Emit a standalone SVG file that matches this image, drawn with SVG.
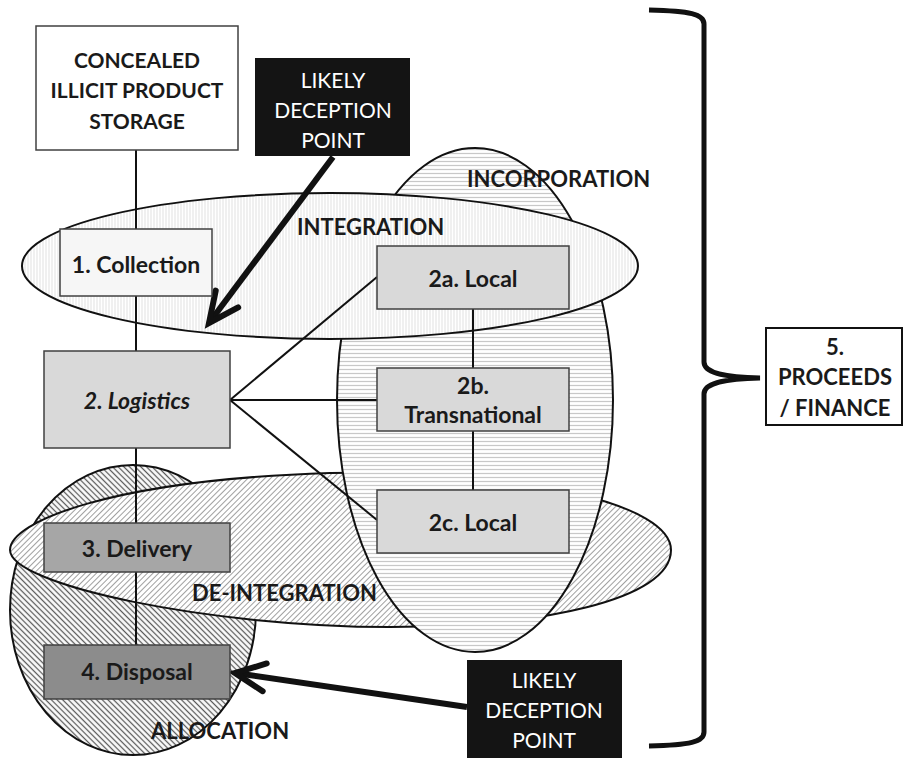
<svg xmlns="http://www.w3.org/2000/svg" width="903" height="758" viewBox="0 0 903 758">
<defs>
<pattern id="pVert" width="3" height="10" patternUnits="userSpaceOnUse"><rect width="3" height="10" fill="#fff"/><line x1="1" y1="0" x2="1" y2="10" stroke="#e2e2e2" stroke-width="1"/></pattern>
<pattern id="pHoriz" width="10" height="4" patternUnits="userSpaceOnUse"><rect width="10" height="4" fill="#fff"/><line x1="0" y1="1.5" x2="10" y2="1.5" stroke="#c8c8c8" stroke-width="1.2"/></pattern>
<pattern id="pFwd" width="4" height="4" patternUnits="userSpaceOnUse" patternTransform="rotate(45)"><rect width="4" height="4" fill="#fff"/><line x1="1.5" y1="0" x2="1.5" y2="4" stroke="#a0a0a0" stroke-width="1"/></pattern>
<pattern id="pBack" width="4" height="4" patternUnits="userSpaceOnUse" patternTransform="rotate(-45)"><rect width="4" height="4" fill="#fff"/><line x1="1.5" y1="0" x2="1.5" y2="4" stroke="#5a5a5a" stroke-width="1.3"/></pattern>
<marker id="chev" markerUnits="userSpaceOnUse" markerWidth="50" markerHeight="50" viewBox="-40 -25 50 50" refX="0" refY="0" orient="auto">
<path d="M-30,-14 L0,0 L-30,14" fill="none" stroke="#111" stroke-width="6" stroke-linecap="round" stroke-linejoin="miter"/>
</marker>
</defs>
<style>
.region{stroke:#111;stroke-width:2}
.box{stroke:#404040;stroke-width:1.5}
.lbl{font-family:Lato,"Liberation Sans",sans-serif;font-weight:bold;fill:#1a1a1a;text-anchor:middle}
.rlbl{font-family:Lato,"Liberation Sans",sans-serif;font-weight:bold;fill:#1a1a1a;font-size:22px}
.dec{font-family:Lato,"Liberation Sans",sans-serif;fill:#fff;font-size:21px;text-anchor:middle}
.conn{stroke:#111;stroke-width:2;fill:none}
.arrow{stroke:#111;stroke-width:6;fill:none}
</style>

<g id="regions">
<g id="allocation"><ellipse class="region" cx="133" cy="610" rx="123" ry="145" fill="url(#pBack)"/></g>
<g id="de-integration"><path class="region" fill="url(#pFwd)" d="M10,550 C10,522 110,480 330,473 C530,470 671,505 671,550 C671,600 540,627 390,627 C210,627 10,585 10,550 Z"/></g>
<g id="incorporation"><ellipse class="region" cx="475" cy="400" rx="138" ry="252" fill="url(#pHoriz)"/></g>
<g id="integration"><ellipse class="region" cx="330" cy="266" rx="308" ry="73" fill="url(#pVert)"/></g>
<text class="rlbl" x="467" y="187">INCORPORATION</text>
<text class="rlbl" x="297" y="235">INTEGRATION</text>
<text class="rlbl" x="192" y="601">DE-INTEGRATION</text>
<text class="rlbl" x="151" y="739">ALLOCATION</text>
</g>

<g id="connectors">
<line class="conn" x1="136" y1="150" x2="136" y2="229"/>
<line class="conn" x1="136" y1="296" x2="136" y2="351"/>
<line class="conn" x1="136" y1="448" x2="136" y2="523"/>
<line class="conn" x1="136" y1="572" x2="136" y2="645"/>
<line class="conn" x1="230" y1="400" x2="377" y2="277"/>
<line class="conn" x1="230" y1="400" x2="377" y2="400"/>
<line class="conn" x1="230" y1="400" x2="377" y2="520"/>
<line class="conn" x1="473" y1="309" x2="473" y2="368"/>
<line class="conn" x1="473" y1="431" x2="473" y2="490"/>
<line class="arrow" x1="333" y1="157" x2="209" y2="323" marker-end="url(#chev)"/>
<line class="arrow" x1="467" y1="707" x2="235" y2="673" marker-end="url(#chev)"/>
<path id="brace" d="M649,10 C690,11 704,14 704,24 L704,362 C704,372 720,377 760,378 C720,379 704,384 704,394 L704,732 C704,742 690,745 649,746" fill="none" stroke="#111" stroke-width="5"/>
</g>

<g id="storage">
<rect class="box" x="36" y="26" width="202" height="124" fill="#fff"/>
<text class="lbl" font-size="21" x="137" y="68">CONCEALED</text>
<text class="lbl" font-size="21" x="137" y="98">ILLICIT PRODUCT</text>
<text class="lbl" font-size="21" x="137" y="129">STORAGE</text>
</g>

<g id="deception-top">
<rect x="255" y="58" width="155" height="98" fill="#141414"/>
<text class="dec" x="333" y="88">LIKELY</text>
<text class="dec" x="333" y="118">DECEPTION</text>
<text class="dec" x="333" y="148">POINT</text>
</g>

<g id="collection">
<rect class="box" x="60" y="229" width="152" height="67" fill="#f6f6f6"/>
<text class="lbl" font-size="23" x="136" y="273">1. Collection</text>
</g>

<g id="logistics">
<rect class="box" x="44" y="351" width="186" height="97" fill="#d9d9d9"/>
<text class="lbl" font-size="23" font-style="italic" x="137" y="409">2. Logistics</text>
</g>

<g id="local-2a">
<rect class="box" x="377" y="246" width="192" height="63" fill="#d9d9d9"/>
<text class="lbl" font-size="23" x="473" y="287">2a. Local</text>
</g>

<g id="transnational-2b">
<rect class="box" x="377" y="368" width="192" height="63" fill="#d9d9d9"/>
<text class="lbl" font-size="23" x="473" y="394">2b.</text>
<text class="lbl" font-size="23" x="473" y="423">Transnational</text>
</g>

<g id="local-2c">
<rect class="box" x="377" y="490" width="192" height="63" fill="#d9d9d9"/>
<text class="lbl" font-size="23" x="473" y="531">2c. Local</text>
</g>

<g id="delivery">
<rect class="box" x="44" y="523" width="186" height="49" fill="#a6a6a6"/>
<text class="lbl" font-size="23" x="137" y="557">3. Delivery</text>
</g>

<g id="disposal">
<rect class="box" x="44" y="645" width="186" height="54" fill="#8c8c8c"/>
<text class="lbl" font-size="23" x="137" y="680">4. Disposal</text>
</g>

<g id="deception-bottom">
<rect x="467" y="660" width="155" height="98" fill="#141414"/>
<text class="dec" x="544" y="688">LIKELY</text>
<text class="dec" x="544" y="718">DECEPTION</text>
<text class="dec" x="544" y="748">POINT</text>
</g>

<g id="proceeds">
<rect x="766" y="328" width="136" height="97" fill="#fff" stroke="#111" stroke-width="2"/>
<text class="lbl" font-size="22" x="835" y="355">5.</text>
<text class="lbl" font-size="22" x="835" y="385">PROCEEDS</text>
<text class="lbl" font-size="22" x="835" y="416">/ FINANCE</text>
</g>
</svg>
